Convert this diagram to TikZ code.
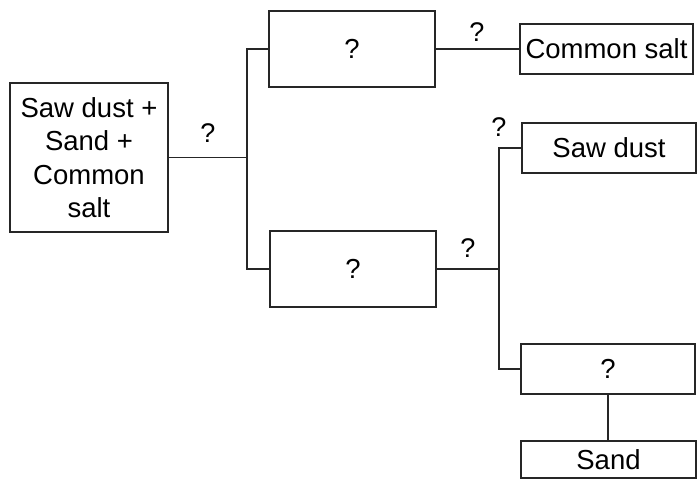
\documentclass[tikz,border=0pt]{standalone}
\usepackage{fontspec}
\setmainfont{Liberation Sans}
\begin{document}
\begin{tikzpicture}[x=1pt,y=-1pt,
  box/.style={draw=black!85, line width=1.3pt, inner sep=0pt, align=center,
    font=\fontsize{27.5}{33.5}\selectfont},
  conn/.style={draw=black!85, line width=1.1pt},
  qlab/.style={inner sep=0pt, font=\fontsize{27}{30}\selectfont}]
\fill[white] (0,0) rectangle (698,479);
\useasboundingbox (0,0) rectangle (698,479);
% boxes
\node[box, minimum width=158pt, minimum height=149pt] (mix) at (89,157.5) {Saw dust +\\Sand +\\Common\\salt};
\node[box, minimum width=166pt, minimum height=76pt] (q1) at (352,49) {?};
\node[box, minimum width=166pt, minimum height=76pt] (q2) at (353,269) {?};
\node[box, minimum width=173pt, minimum height=50pt] (salt) at (606.5,49) {Common salt};
\node[box, minimum width=174pt, minimum height=50pt] (saw) at (609,148) {Saw dust};
\node[box, minimum width=174pt, minimum height=50pt] (q3) at (608,369) {?};
\node[box, minimum width=175pt, minimum height=37pt] (sand) at (608.5,459.5) {Sand};
% junctions
\coordinate (j1) at (247,157.5);
\coordinate (j2) at (499,269);
% connectors
\draw[conn] (mix.east) -- (j1);
\draw[conn] (q1.west) -| (j1) |- (q2.west);
\draw[conn] (q1.east) -- (salt.west);
\draw[conn] (q2.east) -- (j2);
\draw[conn] (saw.west) -| (j2) |- (q3.west);
\draw[conn] (q3.south) -- (q3.south |- sand.north);
% labels
\node[qlab] (l1) at (208,133) {?};
\node[qlab] (l2) at (477,32) {?};
\node[qlab] (l3) at (468,248) {?};
\node[qlab] (l4) at (499,127) {?};
\end{tikzpicture}
\end{document}
